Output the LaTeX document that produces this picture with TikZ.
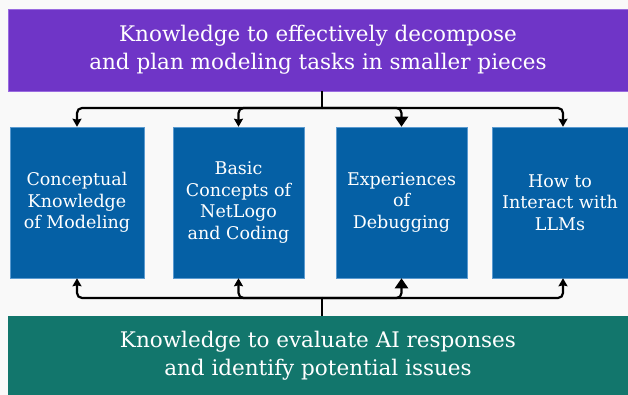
\documentclass[tikz,border=0pt]{standalone}
\usepackage{fontspec}
\setmainfont{DejaVu Serif}
\usetikzlibrary{arrows.meta}
\definecolor{kmPurple}{HTML}{6F35C7}
\definecolor{kmPurpleEdge}{HTML}{9A6BE0}
\definecolor{kmBlue}{HTML}{0560A5}
\definecolor{kmBlueEdge}{HTML}{5A9AD0}
\definecolor{kmTeal}{HTML}{12766C}
\definecolor{kmBg}{HTML}{F9F9F9}

\begin{document}
\begin{tikzpicture}[
  x=1pt, y=-1pt,
  band/.style  ={minimum width=620pt, text=white, align=center, inner sep=0pt,
                 font=\fontsize{21.5}{28}\selectfont},
  skill/.style ={fill=kmBlue, draw=kmBlueEdge, line width=0.5pt, text=white,
                 minimum height=151pt, align=center, inner sep=0pt,
                 font=\fontsize{17.5}{21.5}\selectfont},
  link/.style  ={line width=2.2pt, rounded corners=5pt},
  tip/.style   ={-{Stealth[length=8pt,width=9pt,inset=1pt]}},
  bigtip/.style={-{Triangle[length=10pt,width=13pt]}}]
  \fill[kmBg] (0,0) rectangle (628,395);
  \useasboundingbox (0,0) rectangle (628,395);

  \node[band, fill=kmPurple, draw=kmPurpleEdge, minimum height=82pt] (plan) at (318,50)
    {Knowledge to effectively decompose\\and plan modeling tasks in smaller pieces};
  \node[band, fill=kmTeal, minimum height=79pt] (eval) at (318,355.5)
    {Knowledge to evaluate AI responses\\and identify potential issues};

  \node[skill, minimum width=134pt] (concept) at (77,202.5)
    {Conceptual\\Knowledge\\of Modeling};
  \node[skill, minimum width=131pt] (netlogo) at (238.5,202.5)
    {Basic\\Concepts of\\NetLogo\\and Coding};
  \node[skill, minimum width=131pt] (debug) at (401.5,202.5)
    {Experiences\\of\\Debugging};
  \node[skill, minimum width=136pt] (llm) at (560,202.5)
    {How to\\Interact with\\LLMs};

  \coordinate (hubTop) at (322,108);
  \coordinate (hubBot) at (322,298);

  \draw[link] (plan.south -| hubTop) -- (hubTop);
  \draw[link, tip] (hubTop) -| (concept.north);
  \draw[link, tip] (hubTop) -| (netlogo.north);
  \draw[link, bigtip] (hubTop) -| (debug.north);
  \draw[link, tip] (hubTop) -| ([xshift=3pt]llm.north);

  \draw[link] (eval.north -| hubBot) -- (hubBot);
  \draw[link, tip] (hubBot) -| (concept.south);
  \draw[link, tip] (hubBot) -| (netlogo.south);
  \draw[link, bigtip] (hubBot) -| (debug.south);
  \draw[link, tip] (hubBot) -| ([xshift=3pt]llm.south);
\end{tikzpicture}
\end{document}
